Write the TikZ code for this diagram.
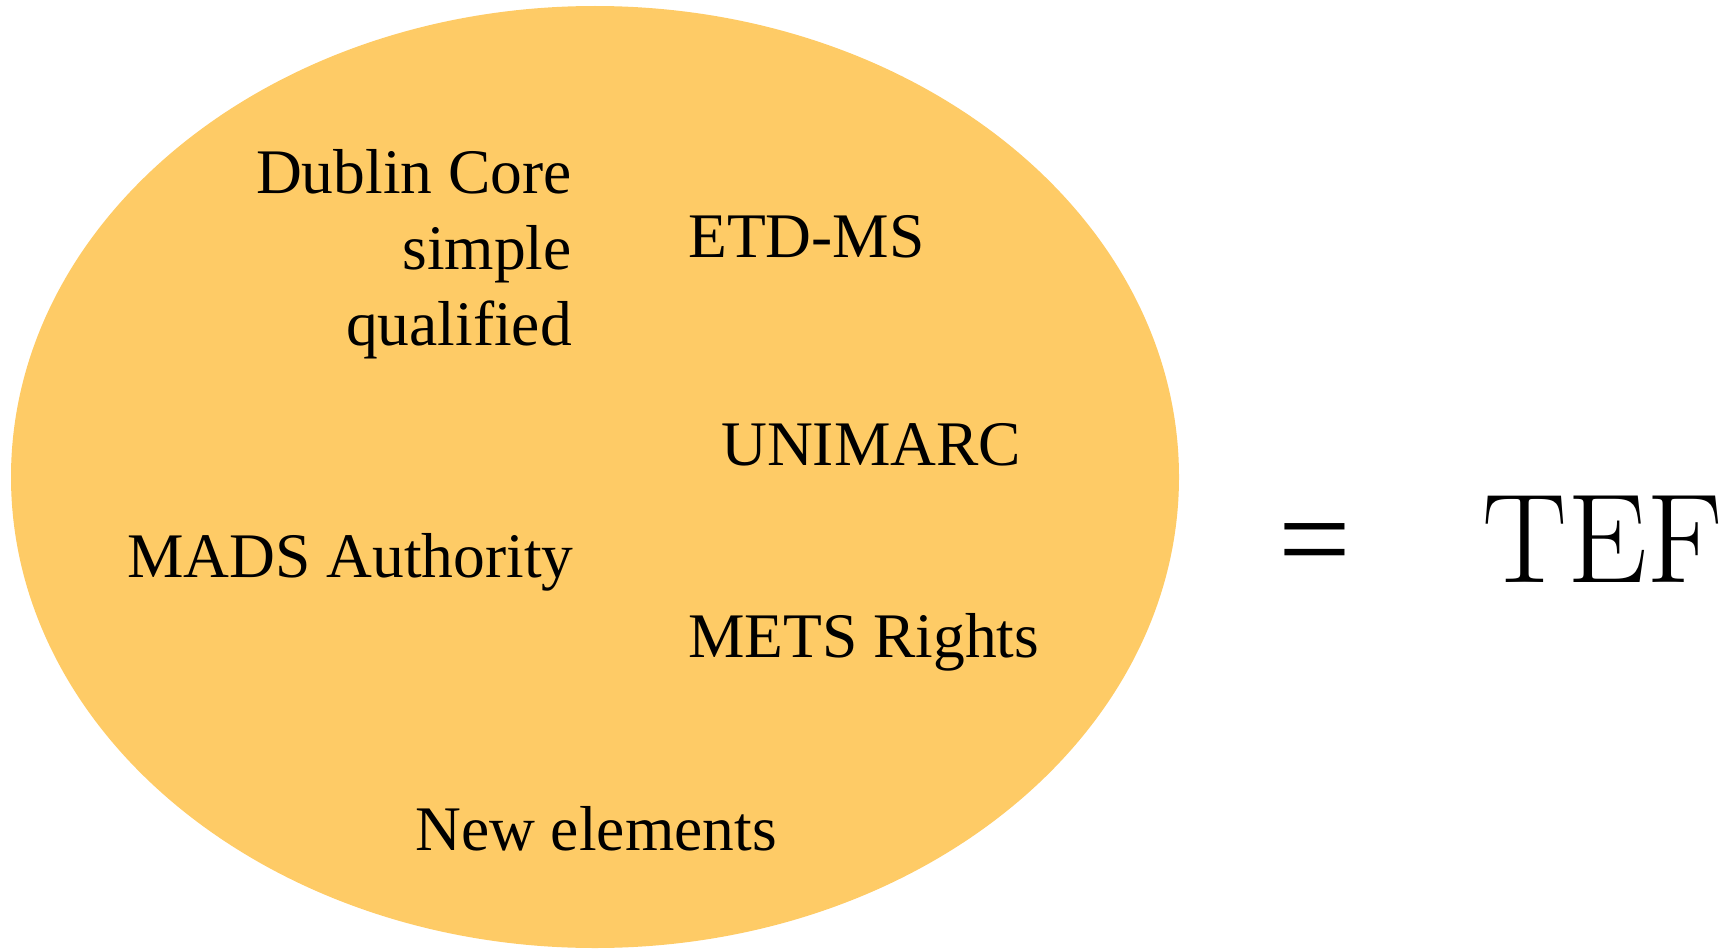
\documentclass[tikz,border=0pt]{standalone}
\usepackage{fontspec}
\setmainfont{Liberation Serif}
\newfontfamily\lmfont{Latin Modern Roman}
\definecolor{setfill}{HTML}{FECB66}

\begin{document}
\begin{tikzpicture}[x=1pt,y=-1pt]

\tikzset{item/.style = {inner sep=0pt, font=\fontsize{63.5}{76}\selectfont}}
\tikzset{big/.style = {inner sep=0pt, font=\fontsize{129}{129}\selectfont}}
\useasboundingbox (0,0) rectangle (1733,950);
%set
\fill[setfill] (595,477) ellipse [x radius=584, y radius=471];
%formats
\node[item, anchor=base east, align=right] (dc) at (572,345) {Dublin Core\\simple\\qualified};
\node[item, anchor=base west] (etd) at (688,257) {ETD-MS};
\node[item, anchor=base west] (uni) at (721,465) {UNIMARC};
\node[item, anchor=base west] (mads) at (127,577) {MADS Authority};
\node[item, anchor=base west] (mets) at (688,657) {METS Rights};
\node[item, anchor=base west] (new) at (415,850) {New elements};
%result
\node[big, anchor=base west] (eq) at (1278,582) {=};
\node[big, font=\lmfont\fontsize{127}{127}\selectfont, anchor=base west] (tef) at (1482,582) {TEF};

\end{tikzpicture}
\end{document}
